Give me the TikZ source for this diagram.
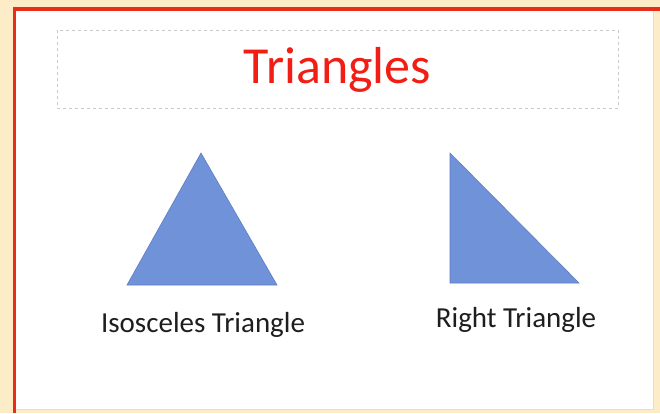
\documentclass[tikz,border=0pt]{standalone}
\usepackage{fontspec}
\setmainfont{Carlito}
\definecolor{pagebg}{RGB}{252,236,200}
\definecolor{slidered}{RGB}{232,45,25}
\definecolor{edgepeach}{RGB}{250,215,180}
\definecolor{trifill}{RGB}{112,146,216}
\definecolor{tristroke}{RGB}{95,125,195}
\definecolor{titlered}{RGB}{240,30,20}
\definecolor{dashgray}{RGB}{200,200,200}
\definecolor{labelgray}{RGB}{30,30,30}
\tikzset{
  tri/.style={fill=trifill, draw=tristroke, line width=0.6pt, line join=miter},
  titlebox/.style={draw=dashgray, line width=0.8pt, dash pattern=on 3pt off 3pt},
  label/.style={font=\fontsize{29}{32}\selectfont, text=labelgray, anchor=base, inner sep=0pt},
  titletext/.style={font=\fontsize{52}{56}\selectfont, text=titlered, anchor=base, inner sep=0pt}
}
\begin{document}
\begin{tikzpicture}[x=1pt,y=-1pt]
\useasboundingbox (0,0) rectangle (660,413);
\fill[pagebg] (0,0) rectangle (660,413);
\fill[white] (14,9) rectangle (653,409);
\draw[edgepeach, line width=1pt] (653,9) -- (653,409) -- (14,409);
\draw[slidered, line width=3.2pt] (14.5,413) -- (14.5,9) -- (660,9);
% title box
\draw[titlebox] (57,30) rectangle (618,108);
\node[titletext] (title) at (337.5,83) {Triangles};
% isosceles triangle
\draw[tri] (201,153) -- (277,285) -- (127,285) -- cycle;
% right triangle
\draw[tri] (450,153) -- (579,283) -- (450,283) -- cycle;
% labels
\node[label] (iso) at (203,332) {Isosceles Triangle};
\node[label] (right) at (516,327) {Right Triangle};
\end{tikzpicture}
\end{document}
